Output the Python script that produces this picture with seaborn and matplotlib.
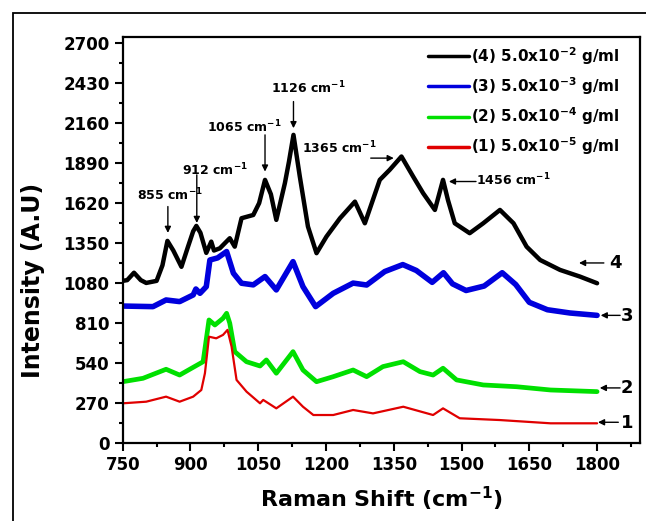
import matplotlib
matplotlib.use("Agg")
import matplotlib.pyplot as plt
import seaborn as sns
import pandas as pd
from matplotlib.patches import Rectangle
from matplotlib.ticker import MultipleLocator

# ---------------- data ----------------
x4 = [750, 760, 775, 790, 802, 825, 838, 849, 862, 880, 895, 906, 913, 922, 935, 946, 952, 965,
      987, 998, 1013, 1039, 1052, 1065, 1078, 1090, 1109, 1118, 1128, 1142, 1160, 1179, 1201,
      1231, 1264, 1286, 1319, 1341, 1367, 1393, 1415, 1441, 1459, 1470, 1485, 1518, 1548, 1585,
      1615, 1644, 1674, 1718, 1762, 1800]
y4 = [1095, 1100, 1150, 1100, 1081, 1095, 1200, 1365, 1300, 1190, 1330, 1430, 1466, 1420, 1284,
      1360, 1300, 1315, 1383, 1326, 1518, 1540, 1620, 1777, 1680, 1507, 1755, 1900, 2081, 1800,
      1462, 1282, 1394, 1518, 1630, 1484, 1777, 1845, 1935, 1799, 1687, 1574, 1777, 1640, 1484,
      1417, 1484, 1574, 1484, 1326, 1236, 1169, 1124, 1079]

x3 = [750, 817, 846, 876, 906, 912, 921, 935, 943, 960, 980, 995, 1013, 1039, 1065, 1090, 1127,
      1149, 1177, 1216, 1260, 1290, 1330, 1370, 1400, 1435, 1460, 1480, 1510, 1550, 1590, 1620,
      1650, 1690, 1740, 1800]
y3 = [925, 921, 966, 955, 1000, 1040, 1011, 1056, 1236, 1250, 1293, 1147, 1079, 1068, 1124, 1034,
      1225, 1056, 921, 1011, 1080, 1067, 1158, 1205, 1165, 1085, 1150, 1075, 1030, 1060, 1150,
      1070, 950, 900, 878, 862]

x2 = [750, 795, 846, 876, 906, 928, 941, 954, 972, 980, 987, 998, 1024, 1054, 1068, 1090, 1127,
      1149, 1179, 1216, 1260, 1290, 1326, 1371, 1408, 1437, 1459, 1489, 1548, 1622, 1697, 1800]
y2 = [414, 437, 498, 459, 511, 549, 831, 797, 842, 876, 809, 617, 549, 520, 561, 471, 617, 493,
      414, 448, 493, 448, 516, 549, 482, 459, 505, 426, 392, 380, 358, 347]

x1 = [750, 802, 846, 876, 906, 924, 932, 941, 957, 972, 982, 991, 1002, 1024, 1054, 1061, 1090,
      1127, 1149, 1172, 1216, 1260, 1304, 1371, 1437, 1459, 1496, 1585, 1697, 1800]
y1 = [268, 279, 313, 279, 313, 358, 471, 718, 707, 730, 764, 651, 426, 347, 268, 291, 234, 313,
      245, 189, 189, 223, 200, 245, 189, 234, 167, 155, 133, 133]

series_labels = ["(4) 5.0x10$^{-2}$ g/ml", "(3) 5.0x10$^{-3}$ g/ml",
                 "(2) 5.0x10$^{-4}$ g/ml", "(1) 5.0x10$^{-5}$ g/ml"]
series_colors = ["#000000", "#0000dd", "#00e000", "#e00000"]
series_widths = [3.2, 4.0, 3.4, 1.6]

x_ticks = [750, 900, 1050, 1200, 1350, 1500, 1650, 1800]
y_ticks = [0, 270, 540, 810, 1080, 1350, 1620, 1890, 2160, 2430, 2700]

peak_labels = ["855", "912", "1065", "1126", "1365", "1456"]

# ---------------- figure ----------------
sns.set_style("ticks")
plt.rcParams["font.family"] = ["DejaVu Sans"]
plt.rcParams["font.weight"] = "bold"
for k in ["text.color", "axes.labelcolor", "xtick.color", "ytick.color", "axes.edgecolor"]:
    plt.rcParams[k] = "black"

fig = plt.figure(figsize=(6.46, 5.21), dpi=100)
ax = fig.add_axes([122.7 / 646, 1 - 443 / 521, (640 - 122.7) / 646, (443 - 37.3) / 521])

frames = []
for xs, ys, lab in zip([x4, x3, x2, x1], [y4, y3, y2, y1], series_labels):
    frames.append(pd.DataFrame({"x": xs, "y": ys, "series": lab}))
df = pd.concat(frames, ignore_index=True)

for lab, col, lw in zip(series_labels, series_colors, series_widths):
    sub = df[df["series"] == lab]
    sns.lineplot(data=sub, x="x", y="y", ax=ax, color=col, lw=lw, label=lab,
                 sort=False, estimator=None)

ax.set_xlim(750, 1895)
ax.set_ylim(0, 2740)
ax.set_xticks(x_ticks)
ax.set_yticks(y_ticks)
ax.xaxis.set_minor_locator(MultipleLocator(75))
ax.yaxis.set_minor_locator(MultipleLocator(135))
ax.tick_params(axis="both", which="major", direction="out", length=6, width=1.5,
               labelsize=12, top=False, right=False, colors="black")
ax.tick_params(axis="both", which="minor", direction="out", length=3, width=1.5,
               top=False, right=False, colors="black")
for lbl in ax.get_xticklabels() + ax.get_yticklabels():
    lbl.set_fontweight("bold")
for sp in ax.spines.values():
    sp.set_visible(True)
    sp.set_linewidth(1.6)
    sp.set_color("black")

ax.set_xlabel("Raman Shift (cm$^{-1}$)", fontsize=16, fontweight="bold", color="black")
ax.set_ylabel("Intensity (A.U)", fontsize=17, fontweight="bold", color="black")
ax.xaxis.set_label_coords(0.5, -0.102)
ax.yaxis.set_label_coords(-0.150, 0.40)

leg = ax.legend(loc="upper left", bbox_to_anchor=((428 - 122.7) / 517.3, (443 - 45) / 405.7),
                frameon=False, fontsize=11, handlelength=2.7, handletextpad=0.1,
                labelspacing=0.55, borderpad=0, borderaxespad=0)
for t in leg.get_texts():
    t.set_fontweight("bold")
    t.set_color("black")
for h in leg.get_lines():
    h.set_linewidth(2.5)

arrow_kw = dict(arrowstyle="-|>", color="black", lw=1.0, mutation_scale=9,
                shrinkA=0, shrinkB=0)

# peak annotations: (text x, text y, arrow start, arrow tip)
peak_text_pos = [(855, 1676), (954, 1845), (1018, 2135), (1160, 2397), (1229, 1991), (1614, 1777)]
peak_arrows = [((850, 1597), (850, 1419)), ((914, 1811), (914, 1486)),
               ((1065, 2081), (1065, 1833)), ((1128, 2306), (1128, 2126)),
               ((1299, 1924), (1350, 1924)), ((1532, 1766), (1472, 1766))]
for lab, (tx, ty), (a0, a1) in zip(peak_labels, peak_text_pos, peak_arrows):
    ax.text(tx, ty, lab + " cm$^{-1}$", fontsize=9, fontweight="bold",
            ha="center", va="center", color="black")
    ax.annotate("", xy=a1, xytext=a0, arrowprops=arrow_kw)

# curve number labels on the right
num_labels = ["4", "3", "2", "1"]
num_text_pos = [(1840, 1216), (1866, 858), (1866, 372), (1866, 135)]
num_arrows = [((1815, 1216), (1760, 1216)), ((1851, 862), (1808, 862)),
              ((1851, 372), (1806, 372)), ((1847, 140), (1802, 140))]
for lab, (tx, ty), (a0, a1) in zip(num_labels, num_text_pos, num_arrows):
    ax.text(tx, ty, lab, fontsize=13, fontweight="bold", ha="center", va="center",
            color="black")
    ax.annotate("", xy=a1, xytext=a0, arrowprops=arrow_kw)

# outer frame of the figure
fig.patches.append(Rectangle((12.7 / 646, -0.2), 1.5, 1.2 - 13.3 / 521,
                             transform=fig.transFigure, fill=False, lw=1.3,
                             ec="black", zorder=0))

fig.savefig("out.png", dpi=100)
